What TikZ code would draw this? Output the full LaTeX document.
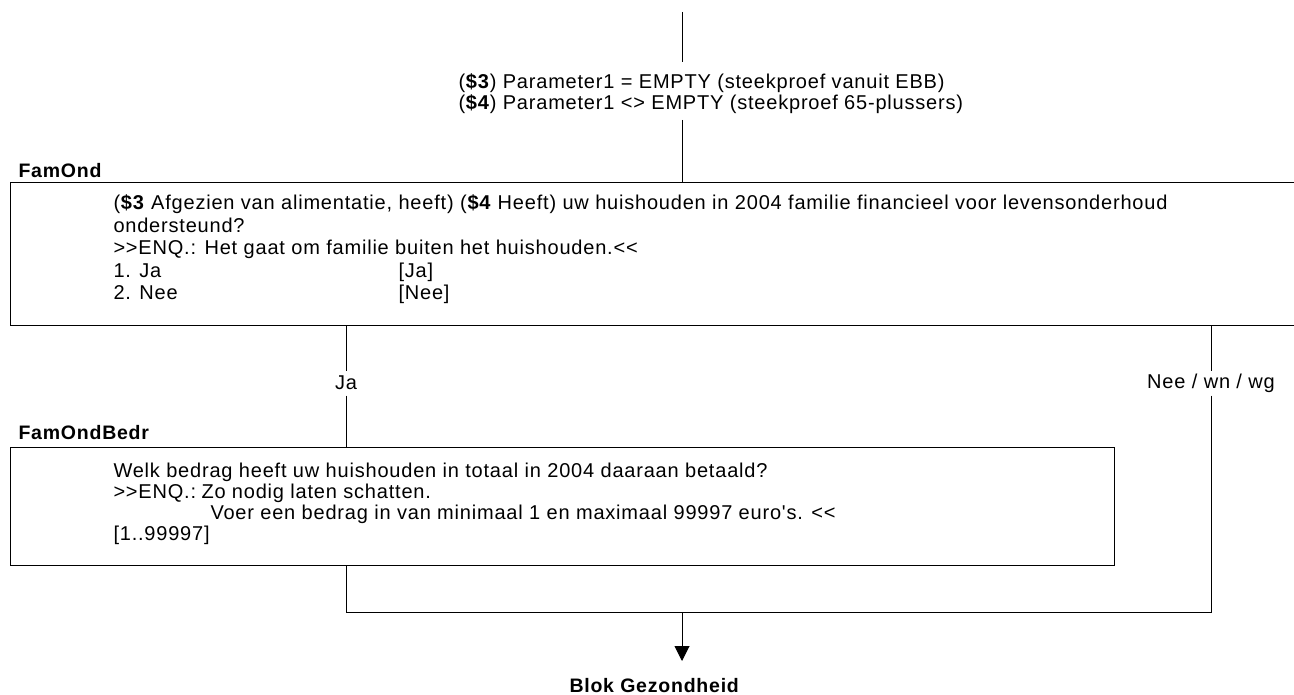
\documentclass[tikz,border=0pt]{standalone}
\usepackage{fontspec}
\newfontfamily\af{Liberation Sans}[LetterSpace=4]
\usetikzlibrary{arrows.meta}
\begin{document}
\begin{tikzpicture}[x=1pt,y=-1pt,
  line width=1pt,
  txt/.style={anchor=base west,inner sep=0pt,font=\af\fontsize{20}{22}\selectfont},
  lbl/.style={anchor=base west,inner sep=0pt,font=\af\bfseries\fontsize{19.5}{21}\selectfont},
  edgelbl/.style={inner sep=0pt,minimum height=24pt,font=\af\fontsize{20}{22}\selectfont},
  qbox/.style={draw,anchor=north west,inner sep=0pt}]
\useasboundingbox (0,0) rectangle (1294,695);
\clip (0,0) rectangle (1294,695);

% top entry and condition
\coordinate (top) at (682,12);
\coordinate (topend) at (682,62);
\node[txt] (cond1) at (458,89) {(\textbf{\$3}) Parameter1 = EMPTY (steekproef vanuit EBB)};
\node[txt] (cond2) at (458,110) {(\textbf{\$4}) Parameter1 <> EMPTY (steekproef 65-plussers)};
\coordinate (condbelow) at (682,120);

% FamOnd
\node[lbl] (famond) at (18,178) {FamOnd};
\node[qbox,minimum width=1320pt,minimum height=143pt] (b1) at (10,182) {};
\node[txt] (q1a) at (113,210) {(\textbf{\$3} Afgezien van alimentatie, heeft) (\textbf{\$4} Heeft) uw huishouden in 2004 familie financieel voor levensonderhoud};
\node[txt] (q1b) at (113,232.5) {ondersteund?};
\node[txt] (q1c) at (113,255) {>>ENQ.: Het gaat om familie buiten het huishouden.<<};
\node[txt] (q1d) at (113,277.5) {1. Ja};
\node[txt] (q1dj) at (398,277.5) {[Ja]};
\node[txt] (q1e) at (113,300) {2. Nee};
\node[txt] (q1en) at (398,300) {[Nee]};

% branch labels
\node[edgelbl] (ja) at (346,383) {Ja};
\node[edgelbl] (nee) at (1211,383) {Nee / wn / wg};

% FamOndBedr
\node[lbl] (famondbedr) at (18,439) {FamOndBedr};
\node[qbox,minimum width=1104pt,minimum height=118pt] (b2) at (10,447) {};
\node[txt] (q2a) at (113,477) {Welk bedrag heeft uw huishouden in totaal in 2004 daaraan betaald?};
\node[txt] (q2b) at (113,498) {>>ENQ.:};
\node[txt] (q2bb) at (201,498) {Zo nodig laten schatten.};
\node[txt] (q2c) at (210,519) {Voer een bedrag in van minimaal 1 en maximaal 99997 euro's. <<};
\node[txt] (q2d) at (113,540) {[1..99997]};

% merge and exit
\coordinate (ml) at (346,612);
\coordinate (mr) at (1211,612);
\coordinate (mm) at (682,612);
\coordinate (tip) at (682,661);
\node[lbl] (blok) at (569,692) {Blok Gezondheid};

% connectors
\draw (top) -- (topend);
\draw (condbelow) -- (condbelow |- b1.north);
\draw (ja |- b1.south) -- (ja.north);
\draw (ja.south) -- (ja |- b2.north);
\draw (nee |- b1.south) -- (nee.north);
\draw (nee.south) -- (mr) -- (ml) -- (ml |- b2.south);
\draw[-{Triangle[width=15pt,length=15pt]}] (mm) -- (tip);
\end{tikzpicture}
\end{document}
